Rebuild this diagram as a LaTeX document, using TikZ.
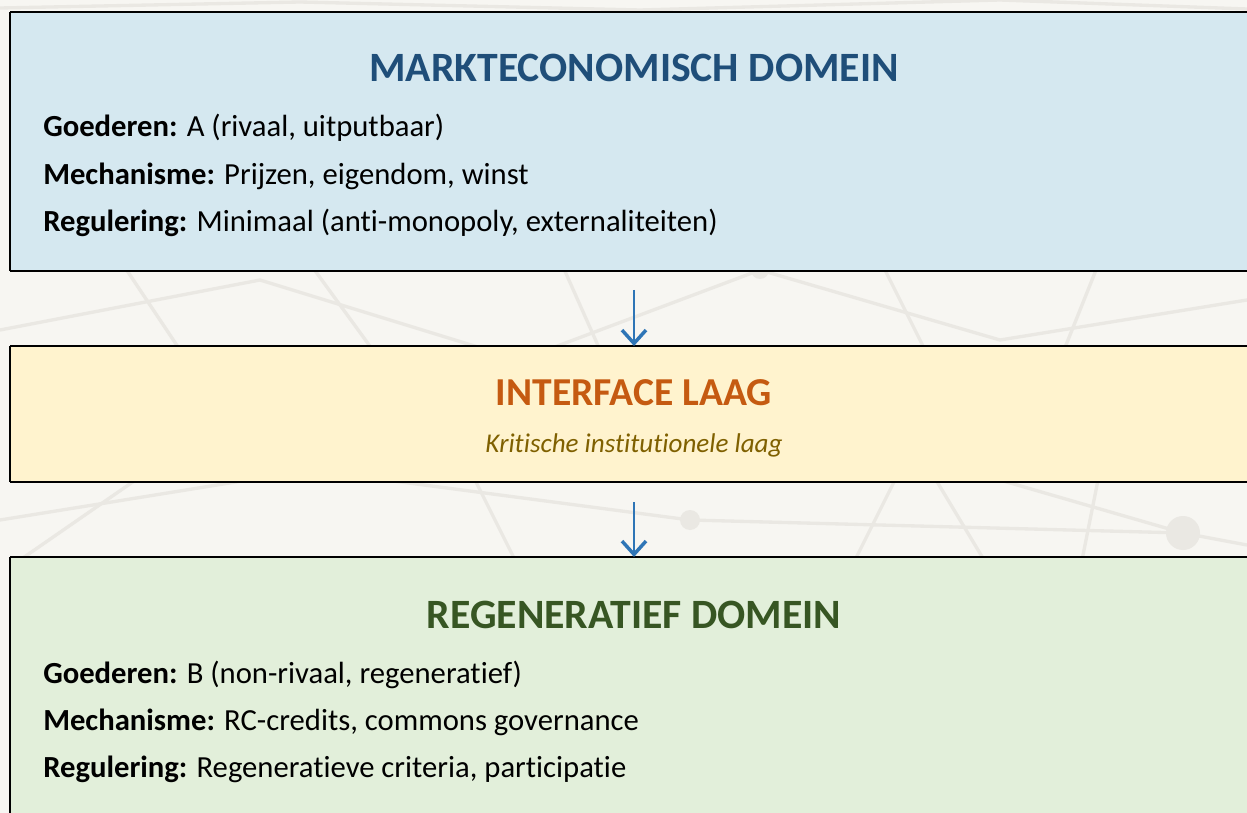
\documentclass[tikz,border=0pt]{standalone}
\usepackage{fontspec}
\setmainfont{Carlito}[Ligatures=NoCommon]
\usetikzlibrary{arrows.meta}
\definecolor{bgc}{HTML}{F7F6F2}
\definecolor{netc}{HTML}{EAE8E3}
\definecolor{bluefill}{HTML}{D5E8F0}
\definecolor{bluetitle}{HTML}{1F4E79}
\definecolor{yellowfill}{HTML}{FFF3CE}
\definecolor{orangetitle}{HTML}{C55A11}
\definecolor{olivetext}{HTML}{7F6000}
\definecolor{greenfill}{HTML}{E2EFDA}
\definecolor{greentitle}{HTML}{375623}
\definecolor{arrowblue}{HTML}{2E75B6}
\tikzset{
  layerbox/.style={inner sep=0pt, outer sep=0pt, anchor=north west, minimum width=936pt},
  edgeline/.style={draw=black, line width=1.6pt},
  sideline/.style={draw=black, line width=0.9pt},
  titletext/.style={anchor=base, inner sep=0pt, font=\fontsize{31.3pt}{36pt}\selectfont\bfseries},
  bodytext/.style={anchor=base west, inner sep=0pt, font=\fontsize{23pt}{27pt}\selectfont},
  subtext/.style={anchor=base, inner sep=0pt, font=\fontsize{20.3pt}{25pt}\selectfont\itshape, text=olivetext},
  flowarrow/.style={draw=arrowblue, line width=1.8pt, -{Straight Barb[length=10pt,width=18pt,line width=2.6pt]}},
  netline/.style={draw=netc, line width=2.5pt},
  netdot/.style={fill=netc}
}
\begin{document}
\begin{tikzpicture}[x=0.75pt,y=-0.75pt]
\useasboundingbox (0,0) rectangle (1247,813);
\fill[bgc] (0,0) rectangle (1247,813);
% faint network in the background
\draw[netline] (0,330) -- (260,280) -- (520,360) -- (760,270) -- (1000,340) -- (1247,300);
\draw[netline] (120,260) -- (200,380);
\draw[netline] (300,250) -- (380,360);
\draw[netline] (560,260) -- (600,350);
\draw[netline] (880,260) -- (930,360);
\draw[netline] (1100,260) -- (1060,360);
\draw[netline] (0,520) -- (310,470) -- (690,520) -- (1183,533) -- (1247,545);
\draw[netline] (20,560) -- (150,470);
\draw[netline] (470,470) -- (520,570);
\draw[netline] (900,470) -- (850,570);
\draw[netline] (930,470) -- (990,570);
\draw[netline] (1000,480) -- (1183,533);
\draw[netline] (1100,470) -- (1080,570);
\draw[netline] (0,8) -- (300,2) -- (640,10) -- (1000,0) -- (1247,9);
\fill[netdot] (690,520) circle (10);
\fill[netdot] (1183,533) circle (17);
\fill[netdot] (310,470) circle (8);
\fill[netdot] (760,270) circle (9);

% boxes
\node[layerbox, fill=bluefill, minimum height=194.25pt] (markt) at (10,12) {};
\node[layerbox, fill=yellowfill, minimum height=102pt] (iface) at (10,346) {};
\node[layerbox, fill=greenfill, minimum height=205pt] (regen) at (10,557) {};
\foreach \b in {markt,iface,regen}{
  \draw[edgeline] (\b.north west) -- (\b.north east);
  \draw[edgeline] (\b.south west) -- (\b.south east);
  \draw[sideline] (\b.north west) -- (\b.south west);
}

% texts
\node[titletext, text=bluetitle] (t1) at (634,82) {MARKTECONOMISCH DOMEIN};
\node[bodytext] (m1) at (43,137) {\textbf{Goederen:} A (rivaal, uitputbaar)};
\node[bodytext] (m2) at (43,185) {\textbf{Mechanisme:} Prijzen, eigendom, winst};
\node[bodytext] (m3) at (43,232) {\textbf{Regulering:} Minimaal (anti-monopoly, externaliteiten)};

\node[titletext, text=orangetitle, font=\fontsize{29.7pt}{34pt}\selectfont\bfseries] (t2) at (634,405) {INTERFACE LAAG};
\node[subtext] (s2) at (634,452) {Kritische institutionele laag};

\node[titletext, text=greentitle] (t3) at (634,628) {REGENERATIEF DOMEIN};
\node[bodytext] (r1) at (43,683) {\textbf{Goederen:} B (non-rivaal, regeneratief)};
\node[bodytext] (r2) at (43,730) {\textbf{Mechanisme:} RC-credits, commons governance};
\node[bodytext] (r3) at (43,777) {\textbf{Regulering:} Regeneratieve criteria, participatie};

% arrows
\draw[flowarrow, shorten <=14.25pt] (markt.south) -- (iface.north);
\draw[flowarrow, shorten <=15pt] (iface.south) -- (regen.north);
\end{tikzpicture}
\end{document}
